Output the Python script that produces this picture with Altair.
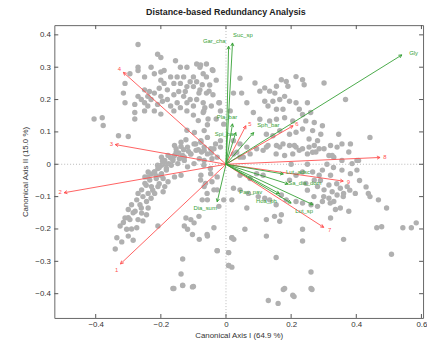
import math
import altair as alt
import pandas as pd

# ---------------- data ----------------
pts_x = [
    -0.27, -0.21, -0.20, -0.155, -0.09, -0.08, -0.04, -0.27, -0.27, -0.295, -0.31, -0.22, -0.20, -0.19, -0.17,
    -0.15, -0.13, -0.10, -0.07, -0.06, -0.03, -0.20, -0.19, -0.18, -0.16, -0.14, -0.12, -0.10, -0.08, -0.06,
    -0.315, -0.31, -0.27, -0.26, -0.25, -0.24, -0.23, -0.22, -0.20, -0.24, -0.21, -0.18, -0.17, -0.15, -0.13,
    -0.11, -0.09, -0.07, -0.065, -0.02, -0.14, -0.28, -0.28, -0.28, -0.405, -0.38, -0.377, -0.33, -0.30, -0.12,
    -0.10, -0.07, -0.055, -0.017, -0.007, -0.057, -0.067, -0.097, -0.12, -0.123, -0.093, -0.077, -0.057, -0.153, -0.138,
    -0.158, -0.163, -0.143, -0.128, -0.108, -0.092, -0.075, -0.067, -0.047, -0.032, -0.017, -0.198, -0.21, -0.183, -0.176,
    -0.22, -0.20, -0.24,
    -0.158, -0.138, -0.118, -0.098, -0.077, -0.067, -0.108, -0.133, -0.153, -0.178, -0.163, -0.188, -0.198, -0.209, -0.219,
    -0.198, -0.183, -0.168, -0.148, -0.128, -0.118, -0.098, -0.082, -0.067, -0.057, -0.037, -0.027, -0.239, -0.249, -0.234,
    -0.214, -0.193, -0.178, -0.158, -0.138, -0.188, -0.209, -0.229, -0.249, -0.259, -0.239, -0.219, -0.193, -0.274, -0.29,
    -0.264, -0.244, -0.239, -0.259, -0.279, -0.30, -0.31, -0.295, -0.27, -0.244, -0.325, -0.305, -0.335, -0.30, -0.274,
    -0.34, -0.209, -0.077, -0.047, -0.067, -0.037, -0.057, -0.123, -0.108, -0.098, -0.128, -0.118, -0.103, -0.082, -0.057,
    -0.027, 0.008, -0.133, -0.138, -0.133, -0.163, -0.103, 0.008, 0.018, 0.018, 0.024,
    -0.078, -0.042, -0.073, -0.083, -0.052, -0.022, -0.068, 0.043, 0.089, 0.104, 0.119, 0.134, 0.155, 0.170, 0.185,
    0.190, 0.215, 0.235, 0.240, 0.150, 0.165, 0.180, 0.119, 0.129, 0.144, 0.155, 0.175, 0.195, 0.215, 0.225,
    0.250, 0.023, 0.048, 0.064, 0.084, 0.104, 0.134, 0.155, 0.180, 0.205, 0.235, 0.260, 0.245, 0.271, 0.296,
    0.301, 0.367, 0.291, 0.266, 0.235, 0.215, 0.195, 0.165, 0.144, 0.124, 0.255, 0.281, 0.210, 0.225, 0.255,
    0.276, 0.301, 0.321, 0.346, 0.356, 0.442, 0.155, 0.175, 0.124, 0.114, 0.094, 0.074, 0.064, 0.043, 0.023,
    0.023, 0.053, 0.316, 0.331, 0.356, 0.402, 0.377, 0.013,
    -0.017, 0.129, 0.165, 0.195, 0.215, 0.235, 0.271, 0.286, 0.154, 0.180, 0.205, 0.250, 0.266, 0.326, 0.341,
    0.382, 0.387, 0.356, 0.382, 0.402, 0.407, 0.321, 0.296, 0.286, 0.266, 0.235, 0.215, 0.195, 0.245, 0.271,
    0.281, 0.301, 0.316, 0.326, 0.341, 0.351, 0.361, 0.372, 0.397, 0.437, 0.442, 0.468, 0.493, 0.463, 0.478,
    0.543, 0.569, 0.584, 0.508, 0.361, 0.321, 0.336, 0.351, 0.377, 0.331, 0.316, 0.296, 0.281, 0.261, 0.235,
    0.215, 0.185, 0.170, 0.154, 0.134, 0.119, 0.099, 0.069, 0.043, 0.023, 0.018, 0.064, 0.058, 0.018, -0.027,
    0.008, 0.008, 0.124, 0.149, 0.165, 0.170, 0.124, 0.235, 0.235, 0.154, 0.261, 0.261, 0.180, 0.205, 0.033,
    0.043, -0.043, -0.068, -0.048, -0.078, -0.063, -0.043, -0.027, -0.027, -0.058, -0.073, -0.007, -0.083, -0.037, -0.058,
    -0.022, 0.043, 0.094, 0.114, 0.074,
    -0.16, -0.133, -0.10, 0.176, 0.209, 0.264, 0.13, 0.16,
    -0.045, -0.085, -0.115, -0.13, -0.145, -0.17, -0.185, -0.195, -0.205, -0.215, -0.23, -0.225, -0.205, -0.245, -0.255,
    -0.27, -0.23, -0.26, -0.285, -0.30, -0.29, -0.315, -0.255, -0.285, -0.32,
    -0.25, -0.235, -0.205, -0.195, -0.16, -0.145, -0.125, -0.11, -0.09, -0.05, -0.04, -0.10, -0.12, -0.16, -0.22,
    -0.25, -0.20, -0.045, -0.03, -0.085, -0.14, -0.12, -0.06, -0.25, -0.23,
    0.30, 0.32, 0.34, 0.36, 0.38, 0.29, 0.25, 0.27, 0.41, 0.43, 0.31, 0.33, 0.25, 0.20,
]
pts_y = [
    0.37, 0.34, 0.33, 0.32, 0.31, 0.30, 0.29, 0.30, 0.29, 0.28, 0.25, 0.28, 0.285, 0.29, 0.27,
    0.27, 0.27, 0.27, 0.28, 0.27, 0.26, 0.26, 0.25, 0.23, 0.25, 0.25, 0.24, 0.24, 0.23, 0.22,
    0.22, 0.19, 0.21, 0.20, 0.19, 0.21, 0.20, 0.22, 0.21, 0.18, 0.185, 0.20, 0.18, 0.19, 0.21,
    0.20, 0.20, 0.19, 0.175, 0.19, 0.175, 0.185, 0.16, 0.14, 0.14, 0.144, 0.12, 0.088, 0.086, 0.165,
    0.152, 0.16, 0.14, 0.165, 0.124, 0.122, 0.104, 0.098, 0.105, 0.076, 0.063, 0.073, 0.083, 0.048, 0.055,
    0.027, 0.012, 0.017, 0.022, 0.032, 0.043, 0.038, 0.053, 0.048, 0.063, 0.073, 0.022, -0.003, -0.013, 0.002,
    -0.024, -0.034, -0.039,
    0.058, 0.068, 0.053, 0.063, 0.068, 0.043, 0.032, 0.027, 0.037, 0.027, 0.017, 0.012, -0.003, -0.013, -0.024,
    -0.029, -0.018, -0.003, 0.002, 0.012, -0.008, 0.002, 0.017, 0.012, 0.032, 0.048, 0.022, -0.024, -0.039, -0.049,
    -0.044, -0.044, -0.054, -0.039, -0.034, -0.069, -0.069, -0.069, -0.059, -0.079, -0.090, -0.090, -0.085, -0.110, -0.125,
    -0.125, -0.115, -0.135, -0.151, -0.145, -0.14, -0.166, -0.171, -0.171, -0.156, -0.191, -0.201, -0.227, -0.222, -0.196,
    -0.262, -0.191, -0.034, -0.029, -0.069, -0.079, -0.110, -0.166, -0.171, -0.181, -0.191, -0.201, -0.217, -0.232, -0.222,
    -0.267, -0.273, -0.293, -0.339, -0.374, -0.384, -0.379, -0.313, -0.318, -0.227, -0.232,
    0.307, 0.292, 0.246, 0.220, 0.226, 0.190, 0.165, 0.266, 0.251, 0.226, 0.236, 0.226, 0.241, 0.261, 0.256,
    0.241, 0.271, 0.261, 0.246, 0.220, 0.200, 0.210, 0.195, 0.180, 0.195, 0.170, 0.170, 0.195, 0.190, 0.170,
    0.190, 0.220, 0.220, 0.190, 0.160, 0.139, 0.134, 0.139, 0.144, 0.134, 0.154, 0.160, 0.134, 0.129, 0.119,
    0.251, 0.200, 0.093, 0.104, 0.109, 0.099, 0.093, 0.104, 0.088, 0.093, 0.078, 0.073, 0.058, 0.043, 0.053,
    0.038, 0.048, 0.058, 0.093, 0.063, 0.083, 0.058, 0.063, 0.053, 0.043, 0.048, 0.032, 0.053, 0.063, 0.073,
    0.032, 0.022, 0.027, 0.022, 0.012, 0.012, 0.038, 0.165,
    0.053, 0.058, 0.053, 0.058, 0.053, 0.048, 0.058, 0.048, 0.032, 0.027, 0.032, 0.032, 0.037, 0.027, 0.053,
    0.063, 0.002, -0.018, -0.029, -0.018, 0.012, -0.034, -0.018, -0.034, -0.024, -0.024, -0.034, -0.049, -0.059, -0.049,
    -0.069, -0.079, -0.064, -0.085, -0.095, -0.074, -0.090, -0.069, -0.090, -0.090, -0.100, -0.110, -0.135, -0.196, -0.193,
    -0.196, -0.196, -0.181, -0.278, -0.232, -0.166, -0.140, -0.135, -0.145, -0.115, -0.105, -0.115, -0.130, -0.125, -0.120,
    -0.115, -0.110, -0.095, -0.125, -0.110, -0.105, -0.100, -0.090, -0.079, -0.074, -0.110, -0.135, -0.201, -0.227, -0.267,
    -0.273, -0.313, -0.171, -0.161, -0.176, -0.156, -0.222, -0.201, -0.237, -0.288, -0.333, -0.384, -0.384, -0.405, 0.037,
    0.022, 0.017, -0.003, -0.013, -0.049, -0.059, -0.054, -0.039, -0.079, -0.090, -0.110, -0.110, -0.161, -0.196, -0.217,
    -0.130, -0.034, -0.029, -0.034, -0.044,
    -0.384, -0.375, -0.378, -0.387, -0.409, -0.387, -0.421, -0.43,
    0.035, 0.045, 0.040, 0.045, 0.035, 0.020, 0.000, 0.010, -0.010, -0.035, -0.030, -0.080, -0.060, -0.065, -0.100,
    -0.090, -0.105, -0.135, -0.150, -0.165, -0.200, -0.180, -0.175, -0.235, -0.240,
    0.230, 0.225, 0.235, 0.195, 0.215, 0.225, 0.225, 0.255, 0.255, 0.245, 0.215, 0.180, 0.190, 0.165, 0.165,
    0.165, 0.155, 0.180, 0.140, 0.135, 0.300, 0.300, 0.310, 0.270, 0.300,
    -0.100, -0.120, -0.060, -0.100, -0.080, -0.050, -0.080, -0.100, -0.050, -0.070, 0.000, -0.010, 0.000, 0.000,
]

# red vectors (tips and label positions, data units)
red_names = ["1", "2", "3", "4", "5", "6", "7", "8", "9"]
red_x = [-0.324, -0.497, -0.340, -0.315, 0.061, 0.206, 0.300, 0.473, 0.360]
red_y = [-0.308, -0.088, 0.061, 0.284, 0.119, 0.119, -0.195, 0.021, -0.052]
red_lx = [-0.336, -0.509, -0.352, -0.327, 0.073, 0.218, 0.318, 0.488, 0.376]
red_ly = [-0.326, -0.085, 0.064, 0.293, 0.125, 0.125, -0.204, 0.021, -0.055]

# green vectors
green_names = ["Gar_cha", "Suc_sp", "Gly", "Pla_bar", "Spi_bar", "Sph_bar",
               "Lut_adsc", "Sa_dia_dom", "Pav_pav", "Hoa_ph", "Lut_sp", "Dia_sum"]
green_x = [0.008, 0.020, 0.540, 0.020, 0.030, 0.085, 0.176, 0.191, 0.164, 0.200, 0.267, -0.027]
green_y = [0.365, 0.375, 0.338, 0.125, 0.098, 0.098, -0.030, -0.061, -0.091, -0.120, -0.125, -0.116]
green_lx = [-0.036, 0.052, 0.576, 0.003, -0.003, 0.130, 0.221, 0.242, 0.076, 0.124, 0.240, -0.064]
green_ly = [0.381, 0.399, 0.345, 0.146, 0.095, 0.122, -0.024, -0.058, -0.085, -0.113, -0.143, -0.134]

x_ticks = [-0.4, -0.2, 0, 0.2, 0.4, 0.6]
y_ticks = [-0.4, -0.3, -0.2, -0.1, 0, 0.1, 0.2, 0.3, 0.4]

title = "Distance-based Redundancy Analysis"
x_title = "Canonical Axis I (64.9 %)"
y_title = "Canonical Axis II (15.0 %)"

# ---------------- build ----------------
W, H = 374, 297
FONT = "Liberation Sans"
RED = "#ff4f4f"
GREEN = "#35a035"
TXT = "#333333"
xs = alt.Scale(domain=[-0.527, 0.605], nice=False, zero=False)
ys = alt.Scale(domain=[-0.475, 0.43], nice=False, zero=False)
AX = alt.Axis(values=x_ticks, format=".1~f", ticks=False, domain=False, grid=False,
              labelPadding=3, titlePadding=3)
AY = alt.Axis(values=y_ticks, format=".1~f", ticks=False, domain=False, grid=False,
              labelPadding=4, titlePadding=5)


def X(f):
    return alt.X(f, type="quantitative", scale=xs, title=x_title, axis=AX)


def Y(f):
    return alt.Y(f, type="quantitative", scale=ys, title=y_title, axis=AY)


def vec_df(names, xv, yv, lx, ly):
    d = pd.DataFrame({"name": names, "x": xv, "y": yv, "lx": lx, "ly": ly})
    d["ox"] = 0.0
    d["oy"] = 0.0
    d["angle"] = [(math.degrees(math.atan2(a, b)) + 360) % 360 for a, b in zip(xv, yv)]
    return d


pts = pd.DataFrame({"x": pts_x, "y": pts_y})
red = vec_df(red_names, red_x, red_y, red_lx, red_ly)
green = vec_df(green_names, green_x, green_y, green_lx, green_ly)
xt = pd.DataFrame({"x": x_ticks})
yt = pd.DataFrame({"y": y_ticks})
zero = pd.DataFrame({"x": [0.0], "y": [0.0]})

zero_x = alt.Chart(zero).mark_rule(color="#b8b8b8", strokeDash=[1, 2], strokeWidth=1).encode(x=X("x"))
zero_y = alt.Chart(zero).mark_rule(color="#b8b8b8", strokeDash=[1, 2], strokeWidth=1).encode(y=Y("y"))

points = alt.Chart(pts).mark_circle(size=30, color="#b0b0b0", opacity=1).encode(x=X("x"), y=Y("y"))


def arrows(df, color):
    lines = alt.Chart(df).mark_rule(color=color, strokeWidth=0.9).encode(
        x=X("ox"), y=Y("oy"), x2="x:Q", y2="y:Q",
    )
    heads = alt.Chart(df).mark_point(
        shape="M-0.5,1L0,0L0.5,1", filled=False, color=color, size=40, strokeWidth=0.9, opacity=1
    ).encode(
        x=X("x"), y=Y("y"), angle=alt.Angle("angle:Q", scale=None),
    )
    labels = alt.Chart(df).mark_text(
        color=color, font=FONT, fontSize=6, align="center", baseline="middle"
    ).encode(
        x=X("lx"), y=Y("ly"), text="name:N",
    )
    return [lines, heads, labels]


ticks = [
    alt.Chart(xt).mark_rule(color="#555").encode(x=X("x"), y=alt.value(H), y2=alt.value(H - 4)),
    alt.Chart(xt).mark_rule(color="#555").encode(x=X("x"), y=alt.value(0), y2=alt.value(4)),
    alt.Chart(yt).mark_rule(color="#555").encode(y=Y("y"), x=alt.value(0), x2=alt.value(4)),
    alt.Chart(yt).mark_rule(color="#555").encode(y=Y("y"), x=alt.value(W), x2=alt.value(W - 4)),
]

chart = alt.layer(
    points, zero_x, zero_y, *arrows(red, RED), *arrows(green, GREEN), *ticks,
).properties(
    width=W, height=H,
    title=alt.TitleParams(title, fontSize=9, font=FONT, fontWeight="bold", color="#222",
                          offset=8, dx=-13),
    autosize=alt.AutoSizeParams(type="none"),
    padding={"left": 47, "top": 15, "right": 4, "bottom": 22},
).configure_view(
    stroke="#666", strokeWidth=1
).configure_axis(
    labelFont=FONT, titleFont=FONT, labelFontSize=8, titleFontSize=8,
    labelColor=TXT, titleColor=TXT, titleFontWeight="normal",
).configure_axisX(
    titleColor=TXT, labelColor=TXT,
).configure_axisY(
    titleColor=TXT, labelColor=TXT,
)

chart.save("out.html", embed_options={"renderer": "svg", "actions": False})
